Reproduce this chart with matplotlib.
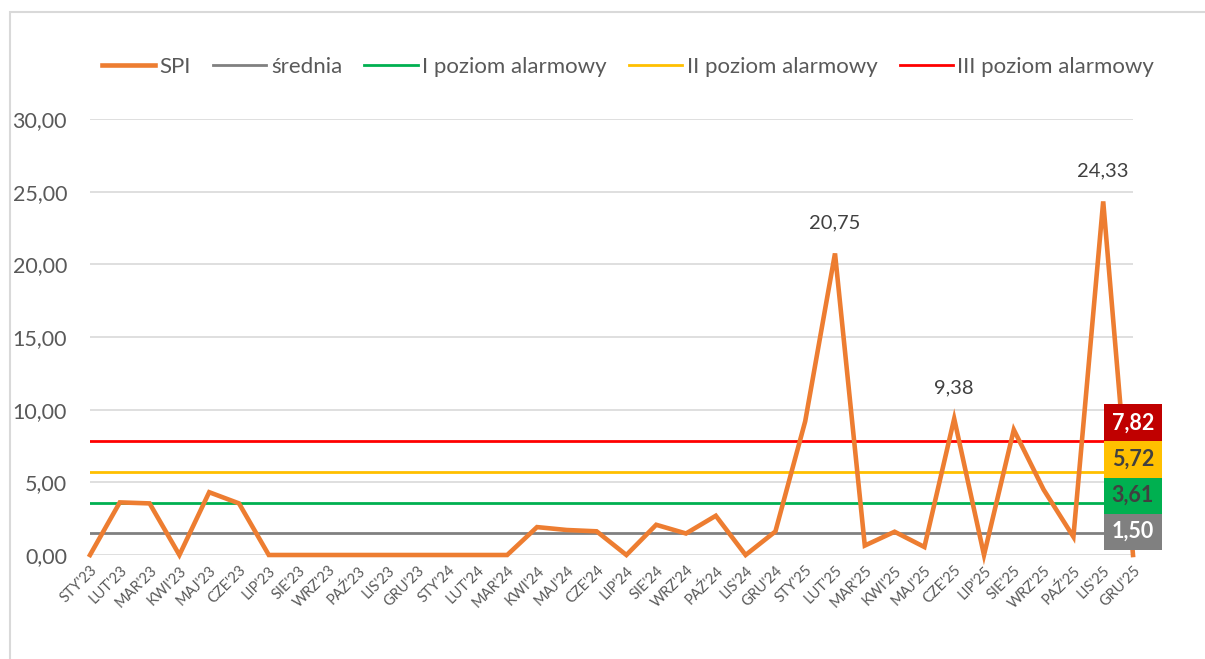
import numpy as np
import matplotlib.pyplot as plt
from matplotlib.patches import Rectangle

plt.rcParams['font.family'] = ['Lato', 'DejaVu Sans']

# miesiące i wartości wskaźnika SPI
months = ["STY'23", "LUT'23", "MAR'23", "KWI'23", "MAJ'23", "CZE'23", "LIP'23", "SIE'23",
          "WRZ'23", "PAŹ'23", "LIS'23", "GRU'23", "STY'24", "LUT'24", "MAR'24", "KWI'24",
          "MAJ'24", "CZE'24", "LIP'24", "SIE'24", "WRZ'24", "PAŹ'24", "LIS'24", "GRU'24",
          "STY'25", "LUT'25", "MAR'25", "KWI'25", "MAJ'25", "CZE'25", "LIP'25", "SIE'25",
          "WRZ'25", "PAŹ'25", "LIS'25", "GRU'25"]
spi = [0.00, 3.62, 3.55, 0.00, 4.32, 3.55, 0.00, 0.00,
       0.00, 0.00, 0.00, 0.00, 0.00, 0.00, 0.00, 1.92,
       1.72, 1.63, 0.00, 2.08, 1.48, 2.70, 0.00, 1.62,
       9.20, 20.75, 0.65, 1.60, 0.55, 9.38, 0.00, 8.62,
       4.50, 1.25, 24.33, 0.00]
labelled = ["LUT'25", "CZE'25", "LIS'25"]

srednia = 1.50
poziom_1 = 3.61
poziom_2 = 5.72
poziom_3 = 7.82

fig = plt.figure(figsize=(12.05, 6.59), dpi=100)
ax = fig.add_axes([90 / 1205, 1 - 555 / 659, (1133 - 90) / 1205, (555 - 119) / 659])

# ramka wykresu
fig.patches.append(Rectangle((10 / 1205, -0.1), 1.2, 1.1 - 12 / 659, transform=fig.transFigure,
                             fill=False, edgecolor='#D9D9D9', linewidth=1.5))

x = np.arange(len(months))
n = len(months)
ax.plot(x, spi, color='#ED7D31', lw=3.3, label='SPI', zorder=5, solid_joinstyle='miter',
        clip_on=False)
ax.plot(x, [srednia] * n, color='#808080', lw=2, label='średnia', zorder=3)
ax.plot(x, [poziom_1] * n, color='#00B050', lw=2, label='I poziom alarmowy', zorder=3)
ax.plot(x, [poziom_2] * n, color='#FFC000', lw=2, label='II poziom alarmowy', zorder=3)
ax.plot(x, [poziom_3] * n, color='#FF0000', lw=2, label='III poziom alarmowy', zorder=3)

# etykiety szczytów
for m in labelled:
    i = months.index(m)
    ax.annotate(f"{spi[i]:.2f}".replace('.', ','), (i, spi[i]), xytext=(0, 16),
                textcoords='offset points', ha='center', va='bottom', fontsize=14.5,
                color='#404040', zorder=6)

# etykiety poziomów przy ostatnim miesiącu, ułożone jedna nad drugą
levels = [srednia, poziom_1, poziom_2, poziom_3]
box_colors = ['#808080', '#00B050', '#FFC000', '#C00000']
text_colors = ['white', '#404040', '#404040', 'white']
for k, (v, bc, tc) in enumerate(zip(levels, box_colors, text_colors)):
    ax.annotate(f"{v:.2f}".replace('.', ','), (n - 1, srednia),
                xytext=(0, 1.2 + k * 26.1), textcoords='offset points',
                ha='center', va='center', fontsize=15.5, fontweight='bold', color=tc,
                bbox=dict(boxstyle='square,pad=0.38', facecolor=bc, edgecolor='none'),
                zorder=10)

ax.set_xlim(0, n - 1)
ax.set_ylim(0, 30)
ax.set_yticks(np.arange(0, 31, 5))
ax.set_yticklabels([f"{t:.2f}".replace('.', ',') for t in np.arange(0, 31, 5)])
ax.set_xticks(x)
ax.set_xticklabels(months, rotation=45, ha='right', rotation_mode='anchor', fontsize=10.5)
ax.tick_params(axis='y', length=0, pad=16.5, labelsize=15.5, labelcolor='#595959')
ax.tick_params(axis='x', length=0, pad=6, labelcolor='#595959')
ax.grid(axis='y', color='#D9D9D9', lw=1.2)
ax.set_axisbelow(True)
for s in ax.spines.values():
    s.set_visible(False)

fig.legend(loc='center', bbox_to_anchor=(628 / 1205, 1 - 67 / 659), ncol=5, frameon=False,
           fontsize=16, labelcolor='#595959', handlelength=2.4, handletextpad=0.2,
           columnspacing=1.0)

fig.savefig('out.png', dpi=100)
